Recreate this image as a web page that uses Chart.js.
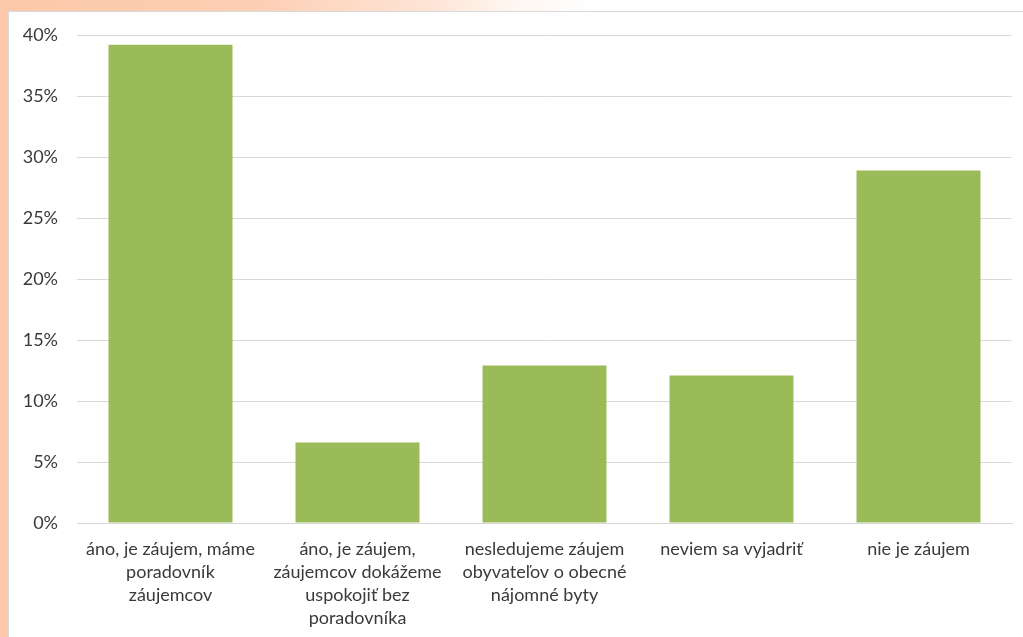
<!DOCTYPE html>
<html>
<head>
<meta charset="utf-8">
<title>Záujem o nájomné byty</title>
<script src="https://cdn.jsdelivr.net/npm/chart.js@4/dist/chart.umd.min.js"></script>
<style>
  html, body { margin: 0; padding: 0; }
  body {
    width: 1023px; height: 637px; overflow: hidden; position: relative;
    background: linear-gradient(to right, #fcc8a9 0%, #fdcfb4 25%, #fee4d5 42%, #fff6f0 50%, #ffffff 58%);
  }
  #panel {
    position: absolute; left: 8px; top: 11px; width: 1030px; height: 640px;
    background: #fff; border: 1px solid #d9d9d9; box-sizing: border-box;
  }
  #wrap { position: absolute; left: 0; top: 0; width: 1023px; height: 637px; }
</style>
</head>
<body>
<div id="panel"></div>
<div id="wrap"><canvas id="chart"></canvas></div>
<script>
// odpovede (kategórie) a ich podiely
const categories = [
  ['áno, je záujem, máme', 'poradovník', 'záujemcov'],
  ['áno, je záujem,', 'záujemcov dokážeme', 'uspokojiť bez', 'poradovníka'],
  ['nesledujeme záujem', 'obyvateľov o obecné', 'nájomné byty'],
  ['neviem sa vyjadriť'],
  ['nie je záujem']
];
const shares = [0.392, 0.066, 0.129, 0.121, 0.289];
const yTicks = [0, 0.05, 0.10, 0.15, 0.20, 0.25, 0.30, 0.35, 0.40];

const textColor = '#3a3a3a';
const gridColor = '#d9d9d9';
const barColor = '#9bbb59';
const font = { family: 'Lato', size: 18, lineHeight: 1.28 };

new Chart(document.getElementById('chart'), {
  type: 'bar',
  data: {
    labels: categories,
    datasets: [{
      data: shares,
      backgroundColor: barColor,
      borderWidth: 0,
      barPercentage: 0.663,
      categoryPercentage: 1
    }]
  },
  options: {
    responsive: true,
    maintainAspectRatio: false,
    animation: false,
    layout: { padding: { top: 35, right: 11, left: 0, bottom: 0 } },
    plugins: { legend: { display: false }, tooltip: { enabled: false } },
    scales: {
      x: {
        grid: { display: false, drawTicks: false },
        border: { display: true, color: gridColor },
        ticks: { color: textColor, font: font, padding: 15, maxRotation: 0, autoSkip: false },
        afterFit: (scale) => { scale.height = 114; }
      },
      y: {
        min: 0,
        max: 0.4,
        afterBuildTicks: (scale) => { scale.ticks = yTicks.map(v => ({ value: v })); },
        grid: { color: gridColor, drawTicks: false },
        border: { display: false },
        ticks: {
          color: textColor,
          font: font,
          padding: 19,
          callback: (v) => Math.round(v * 100) + '%'
        },
        afterFit: (scale) => { scale.width = 77; }
      }
    }
  }
});
</script>
</body>
</html>
